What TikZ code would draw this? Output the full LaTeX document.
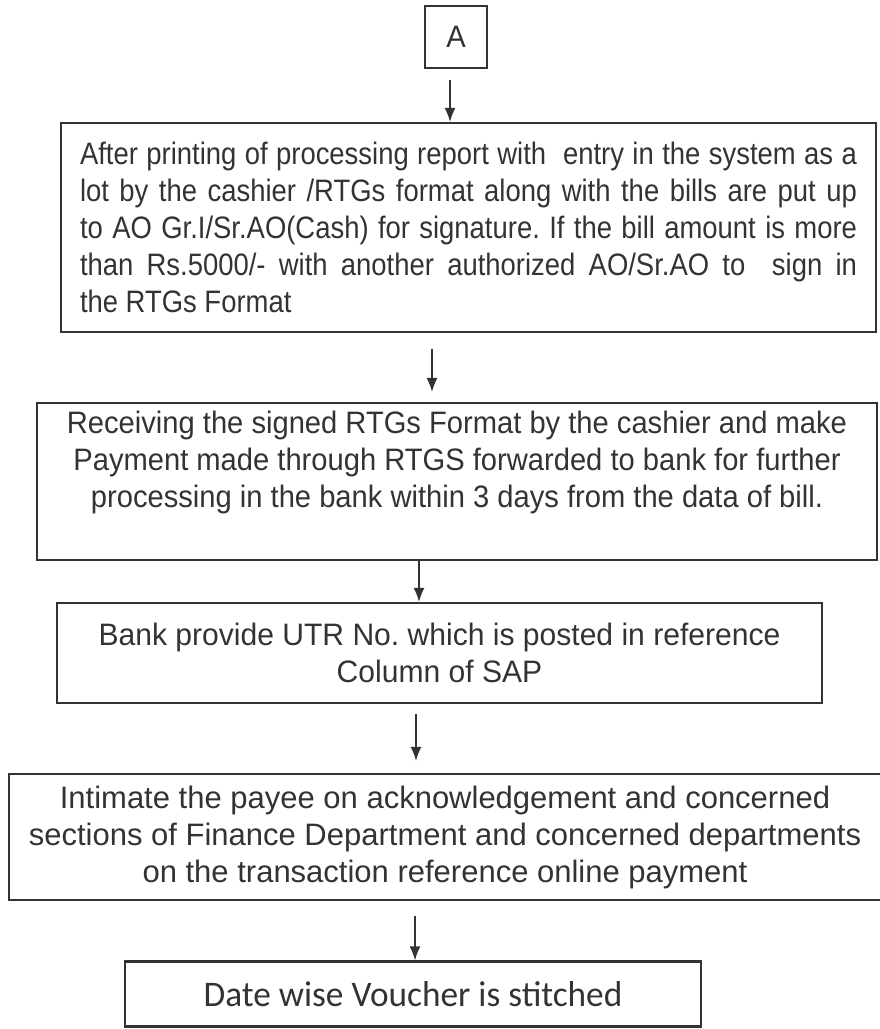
\documentclass[tikz,border=0pt]{standalone}
\usepackage{fontspec}
\setmainfont{Liberation Sans}[FakeStretch=0.94]
\newfontfamily\stitchfont{Carlito}[FakeStretch=0.98]
\usetikzlibrary{arrows.meta,positioning}
\definecolor{ink}{HTML}{333333}
\newcommand{\boxfont}[1]{\addfontfeature{FakeStretch=#1}\fontsize{31pt}{37pt}\selectfont}
\tikzset{
	stepbox/.style={draw=ink, line width=2.2pt, text=ink, inner sep=4pt, font=\fontsize{31pt}{37pt}\selectfont},
	flow/.style={draw=ink, line width=1.6pt, -{Latex[length=14pt,width=11pt]}}
}
\frenchspacing

\begin{document}
\begin{tikzpicture}[x=1pt,y=-1pt]
		\useasboundingbox (0,0) rectangle (879,1029);
		
		\node[stepbox, minimum width=62pt, minimum height=62pt] (a) at (456,37) {A};
		
		\node[stepbox, font=\boxfont{0.885}, minimum width=815pt, minimum height=209pt, text width=777pt, align=justify] (rep) at (468.5,227.5)
			{After printing of processing report with\ \ entry in the system as a\linebreak
			lot by the cashier /RTGs format along with the bills are put up\linebreak
			to AO Gr.I/Sr.AO(Cash) for signature. If the bill amount is more\linebreak
			than Rs.5000/- with another authorized AO/Sr.AO to\ \ sign in\linebreak
			the RTGs Format};
		
		\node[stepbox, minimum width=840pt, minimum height=157pt, align=center, text depth=45pt] (rtgs) at (457,481.5)
			{Receiving the signed RTGs Format by the cashier and make\\
			Payment made through RTGS forwarded to bank for further\\
			processing in the bank within 3 days from the data of bill.};
		
		\node[stepbox, font=\boxfont{0.97}, minimum width=765pt, minimum height=100pt, align=center] (utr) at (439.5,653)
			{Bank provide UTR No. which is posted in reference\\
			Column of SAP};
		
		\node[stepbox, font=\boxfont{1.0}, minimum width=872pt, minimum height=126pt, align=center] (int) at (445,837)
			{Intimate the payee on acknowledgement and concerned\\
			sections of Finance Department and concerned departments\\
			on the transaction reference online payment};
		
		\node[stepbox, font=\stitchfont\fontsize{36pt}{40pt}\selectfont, minimum width=576pt, minimum height=65pt] (vou) at (413,994)
			{Date wise Voucher is stitched};
		
		% arrows: from/to/x offset/start gap/end gap
		\foreach \s/\t/\dx/\gs/\ge in {a/rep/-6/11/0, rep/rtgs/-36.5/16/10, rtgs/utr/-38/0/0, utr/int/-23.5/10/12, int/vou/-30/15/0}{
			\draw[flow, shorten <=\gs pt, shorten >=\ge pt] ([xshift=\dx pt]\s.south) -- ([xshift=\dx pt]\s.south |- \t.north);
		}
\end{tikzpicture}
\end{document}
